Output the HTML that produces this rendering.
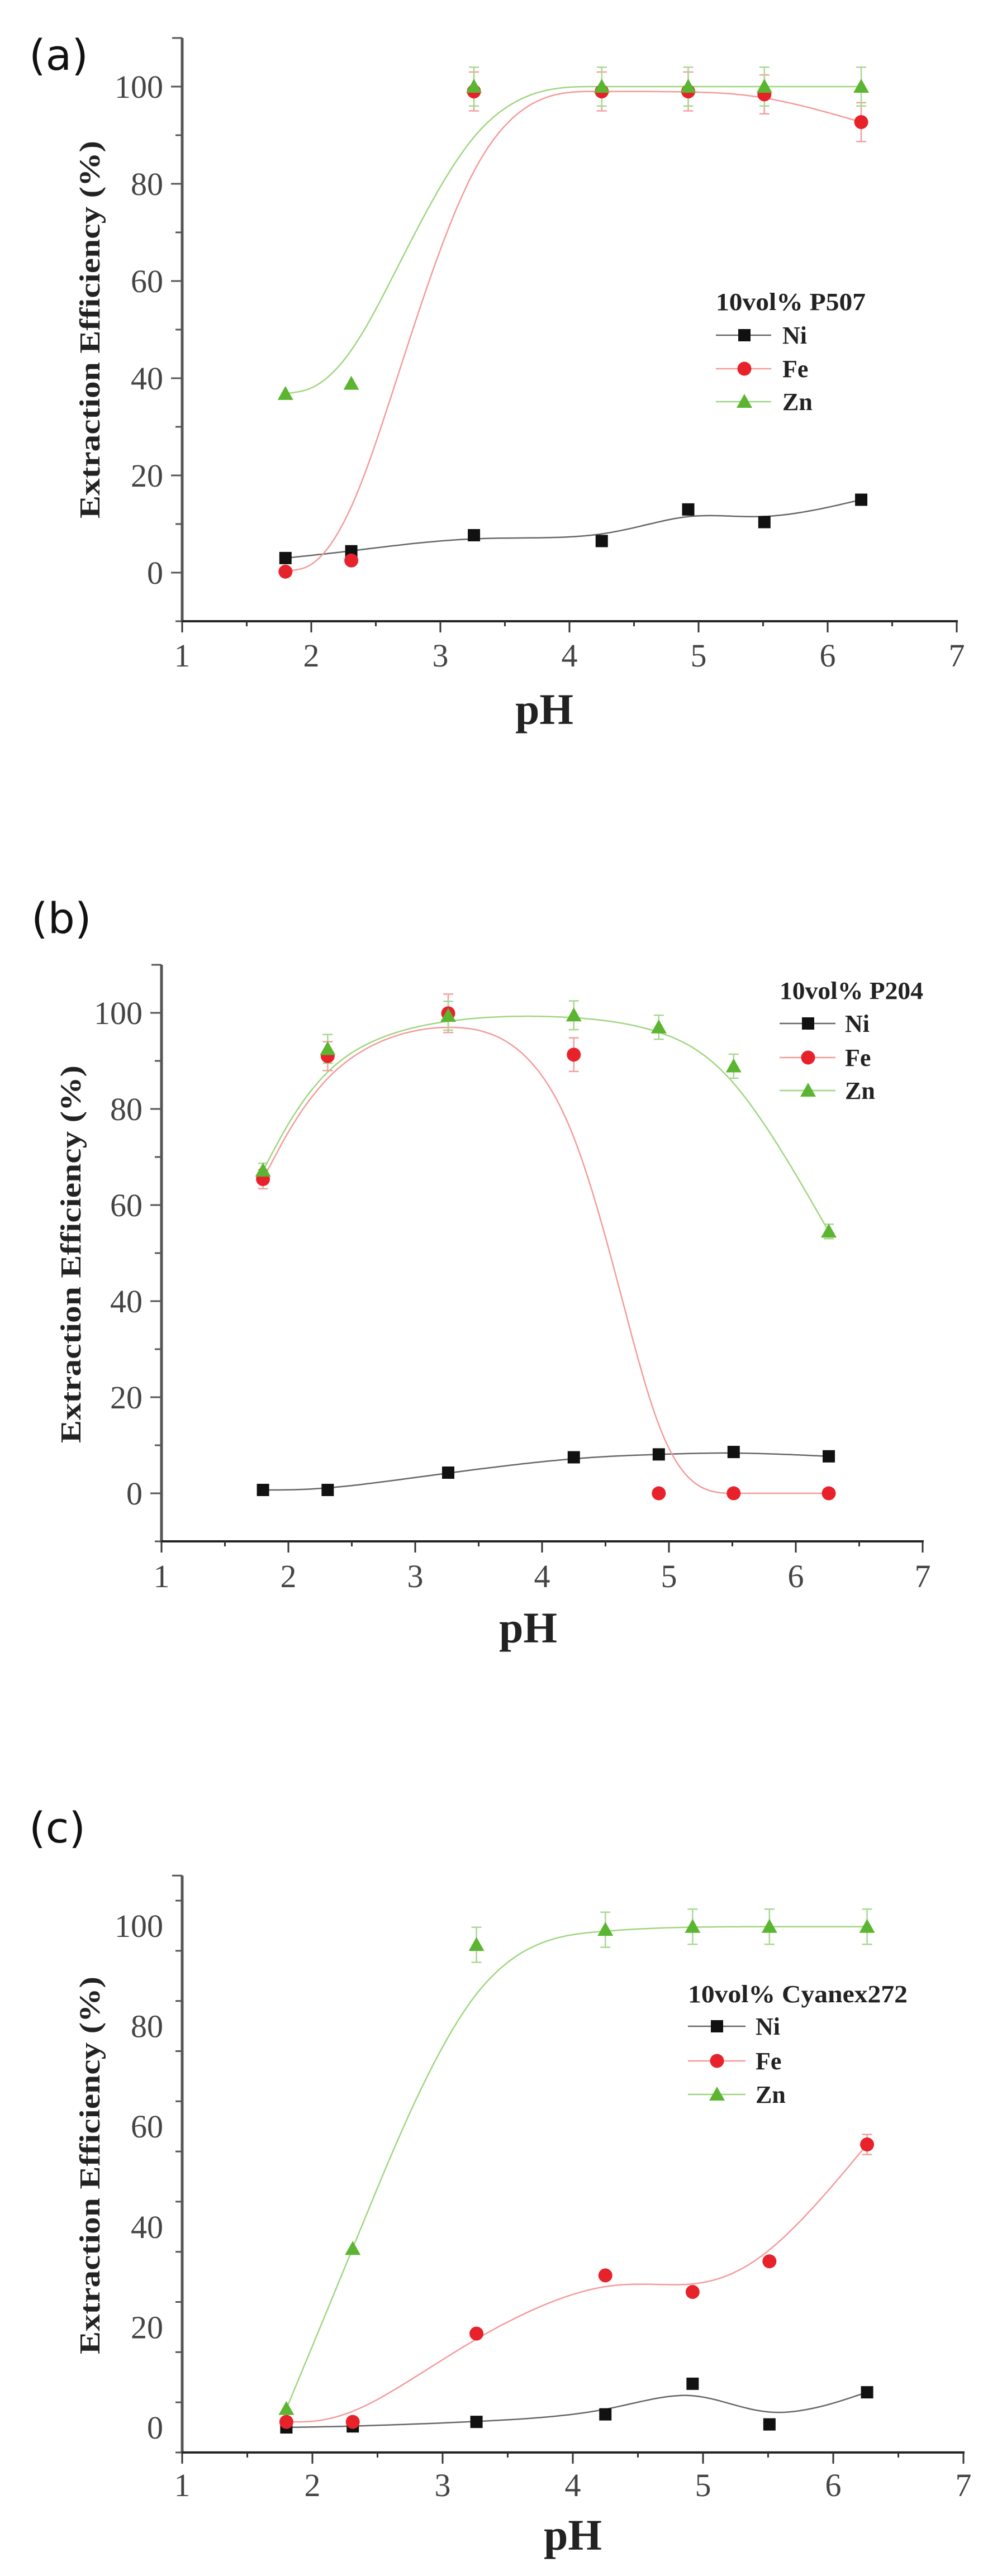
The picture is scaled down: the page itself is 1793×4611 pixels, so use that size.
<!DOCTYPE html>
<html><head><meta charset="utf-8"><style>
html,body{margin:0;padding:0;background:#fff;}
svg{display:block;}
</style></head><body>
<svg id="fig" width="1793" height="4611" viewBox="0 0 1793 4611" xmlns="http://www.w3.org/2000/svg">
<rect width="1793" height="4611" fill="#fff"/>
</svg>
<script>
const pH = [1.8, 2.31, 3.26, 4.25, 4.92, 5.51, 6.26];
const xTickLabels = [1, 2, 3, 4, 5, 6, 7];
const yTickLabels = [0, 20, 40, 60, 80, 100];
const seriesNames = ["Ni", "Fe", "Zn"];
const panelLetters = ["(a)", "(b)", "(c)"];
const legendTitles = ["10vol% P507", "10vol% P204", "10vol% Cyanex272"];

const aNi = [3.0, 4.4, 7.7, 6.5, 13.0, 10.4, 15.0];
const aFe = [0.2, 2.5, 99.0, 99.0, 99.0, 98.4, 92.7];
const aZn = [36.8, 38.9, 100, 100, 100, 100, 100];
const aFeErr = [0, 0, 4, 4, 4, 4, 4];
const aZnErr = [0, 0, 4, 4, 4, 4, 4];

const bNi = [0.7, 0.7, 4.3, 7.5, 8.1, 8.6, 7.7];
const bFe = [65.4, 91.0, 99.9, 91.3, 0, 0, 0];
const bZn = [67.2, 92.5, 99.4, 99.5, 97.0, 88.9, 54.5];
const bFeErr = [2, 3, 4, 3.5, 0, 0, 0];
const bZnErr = [1.5, 3, 3, 3, 2.5, 2.5, 1.5];

const cNi = [0, 0.2, 1.1, 2.6, 8.7, 0.6, 7.0];
const cFe = [1.1, 1.1, 18.7, 30.3, 27.0, 33.1, 56.4];
const cZn = [3.7, 35.6, 96.2, 99.2, 99.8, 99.8, 99.8];
const cFeErr = [0, 0, 0, 0, 0, 0, 2];
const cZnErr = [0, 0, 3.5, 3.5, 3.5, 3.5, 3.5];

const NS = "http://www.w3.org/2000/svg";
const svg = document.getElementById("fig");
function mk(tag, attrs, parent) {
  const e = document.createElementNS(NS, tag);
  for (const k in attrs) e.setAttribute(k, attrs[k]);
  (parent || svg).appendChild(e);
  return e;
}

const panels = [
  {ni: aNi, fe: aFe, zn: aZn, feErr: aFeErr, znErr: aZnErr, x0: 326, xpu: 231, y0: 1025, ypu: 8.7, ymin: -10, ymax: 110,
   letter: [52, 125], ptitle: [974, 1296], ytitle: [178, 590], tickY: 1193, leg: {x1: 1281, x2: 1380, mx: 1332, tx: 1400, ty: 540, rows: [600, 660, 719], tw: 268}},
  {ni: bNi, fe: bFe, zn: bZn, feErr: bFeErr, znErr: bZnErr, x0: 289, xpu: 227, y0: 2673, ypu: 8.6, ymin: -10, ymax: 110,
   letter: [56, 1670], ptitle: [945, 2940], ytitle: [144, 2245], tickY: 2841, leg: {x1: 1395, x2: 1495, mx: 1446, tx: 1512, ty: 1773, rows: [1832, 1893, 1952], tw: 257}},
  {ni: cNi, fe: cFe, zn: cZn, feErr: cFeErr, znErr: cZnErr, x0: 326, xpu: 233, y0: 4345, ypu: 8.98, ymin: -5, ymax: 110,
   letter: [52, 3298], ptitle: [1025, 4564], ytitle: [178, 3876], tickY: 4468, leg: {x1: 1231, x2: 1334, mx: 1283, tx: 1352, ty: 3569, rows: [3627, 3689, 3749], tw: 393}}
];

const colors = {Ni: "#111", Fe: "#e8222b", Zn: "#5cb531"};
const lineColors = {Ni: "#666", Fe: "#f59a9a", Zn: "#9ed67f"};
const errColors = {Fe: "#f2a0a0", Zn: "#a8d890"};

function drawMarker(g, name, cx, cy) {
  let m;
  if (name === "Ni") m = mk("rect", {x: cx - 11, y: cy - 11, width: 22, height: 22, fill: colors.Ni}, g);
  else if (name === "Fe") m = mk("circle", {cx: cx, cy: cy, r: 12.5, fill: colors.Fe}, g);
  else m = mk("polygon", {points: `${cx},${cy - 14} ${cx - 14},${cy + 11} ${cx + 14},${cy + 11}`, fill: colors.Zn}, g);
  return m;
}

function bspline(pts) {
  const P = [pts[0], pts[0]].concat(pts, [pts[pts.length - 1], pts[pts.length - 1]]);
  const out = [];
  for (let i = 0; i < P.length - 3; i++) {
    for (let s = 0; s <= 20; s++) {
      const t = s / 20, t2 = t * t, t3 = t2 * t;
      const b0 = (1 - t) ** 3 / 6, b1 = (3 * t3 - 6 * t2 + 4) / 6, b2 = (-3 * t3 + 3 * t2 + 3 * t + 1) / 6, b3 = t3 / 6;
      out.push([b0 * P[i][0] + b1 * P[i + 1][0] + b2 * P[i + 2][0] + b3 * P[i + 3][0],
                b0 * P[i][1] + b1 * P[i + 1][1] + b2 * P[i + 2][1] + b3 * P[i + 3][1]]);
    }
  }
  return out;
}

panels.forEach((p, pi) => {
  const X = v => p.x0 + (v - 1) * p.xpu;
  const Y = v => p.y0 - v * p.ypu;
  const g = mk("g", {});
  
  

  const lt = mk("text", {x: p.letter[0], y: p.letter[1], "font-family": "DejaVu Sans, sans-serif", "font-size": 76, fill: "#111"}, g);
  lt.textContent = panelLetters[pi];
  
  

  // axes
  const yTop = Y(p.ymax), yBot = Y(p.ymin);
  const ya = mk("line", {x1: p.x0, y1: yTop, x2: p.x0, y2: yBot + 2, stroke: "#555", "stroke-width": 5}, g);
  
  
  const xa = mk("line", {x1: p.x0 - 2, y1: yBot, x2: X(7) + 2, y2: yBot, stroke: "#222", "stroke-width": 4}, g);
  
  
  mk("line", {x1: p.x0 - 18, y1: yTop, x2: p.x0, y2: yTop, stroke: "#555", "stroke-width": 3}, g);

  for (let v = p.ymin; v <= p.ymax; v += 10) {
    const major = v % 20 === 0;
    mk("line", {x1: p.x0 - (major ? 20 : 12), y1: Y(v), x2: p.x0, y2: Y(v), stroke: "#555", "stroke-width": 3}, g);
  }
  yTickLabels.forEach(v => {
    const t = mk("text", {x: p.x0 - 34, y: Y(v) + 20, "text-anchor": "end", "font-family": "Liberation Serif, serif", "font-size": 58, fill: "#444"}, g);
    t.textContent = v;
    
    
  });
  xTickLabels.forEach(v => {
    mk("line", {x1: X(v), y1: yBot, x2: X(v), y2: yBot + 20, stroke: "#333", "stroke-width": 3}, g);
    if (v < 7) mk("line", {x1: X(v + 0.5), y1: yBot, x2: X(v + 0.5), y2: yBot + 9, stroke: "#333", "stroke-width": 3}, g);
    const t = mk("text", {x: X(v), y: p.tickY, "text-anchor": "middle", "font-family": "Liberation Serif, serif", "font-size": 58, fill: "#444"}, g);
    t.textContent = v;
    
    
  });

  const xt = mk("text", {x: p.ptitle[0], y: p.ptitle[1], "text-anchor": "middle", "font-family": "Liberation Serif, serif", "font-size": 78, "font-weight": "bold", fill: "#222"}, g);
  xt.textContent = "pH";
  
  
  const yt = mk("text", {x: 0, y: 0, transform: `translate(${p.ytitle[0]},${p.ytitle[1]}) rotate(-90)`, "text-anchor": "middle", "font-family": "Liberation Serif, serif", "font-size": 52, "font-weight": "bold", fill: "#222", textLength: 676, lengthAdjust: "spacingAndGlyphs"}, g);
  yt.textContent = "Extraction Efficiency (%)";
  
  

  const data = {Ni: p.ni, Fe: p.fe, Zn: p.zn};
  const errs = {Fe: p.feErr, Zn: p.znErr};
  // curves
  seriesNames.forEach(n => {
    const pts = bspline(pH.map((x, i) => [X(x), Y(data[n][i])]));
    const path = mk("path", {d: "M" + pts.map(q => q[0].toFixed(1) + "," + q[1].toFixed(1)).join("L"), fill: "none", stroke: lineColors[n], "stroke-width": 2.5}, g);
    
    
  });
  // error bars
  ["Fe", "Zn"].forEach(n => {
    pH.forEach((x, i) => {
      const e = errs[n][i];
      if (!e) return;
      const cx = X(x), a = Y(data[n][i] + e), b = Y(data[n][i] - e);
      const eg = mk("g", {stroke: errColors[n], "stroke-width": 2.5}, g);
      
      
      mk("line", {x1: cx, y1: a, x2: cx, y2: b}, eg);
      mk("line", {x1: cx - 9, y1: a, x2: cx + 9, y2: a}, eg);
      mk("line", {x1: cx - 9, y1: b, x2: cx + 9, y2: b}, eg);
    });
  });
  // markers
  seriesNames.forEach(n => {
    pH.forEach((x, i) => {
      const m = drawMarker(g, n, X(x), Y(data[n][i]));
      
      
    });
  });

  // legend
  const L = p.leg;
  const lg = mk("g", {}, g);
  
  
  const tt = mk("text", {x: L.x1, y: L.ty + 15, "font-family": "Liberation Serif, serif", "font-size": 44, "font-weight": "bold", fill: "#222", textLength: L.tw, lengthAdjust: "spacingAndGlyphs"}, lg);
  tt.textContent = legendTitles[pi];
  
  
  seriesNames.forEach((n, k) => {
    const ry = L.rows[k];
    const eg = mk("g", {}, lg);
    
    
    mk("line", {x1: L.x1, y1: ry, x2: L.x2, y2: ry, stroke: lineColors[n], "stroke-width": 2.5}, eg);
    drawMarker(eg, n, L.mx, ry);
    const t = mk("text", {x: L.tx, y: ry + 15, "font-family": "Liberation Serif, serif", "font-size": 44, "font-weight": "bold", fill: "#222"}, eg);
    t.textContent = n;
  });
});
</script>
</body></html>
